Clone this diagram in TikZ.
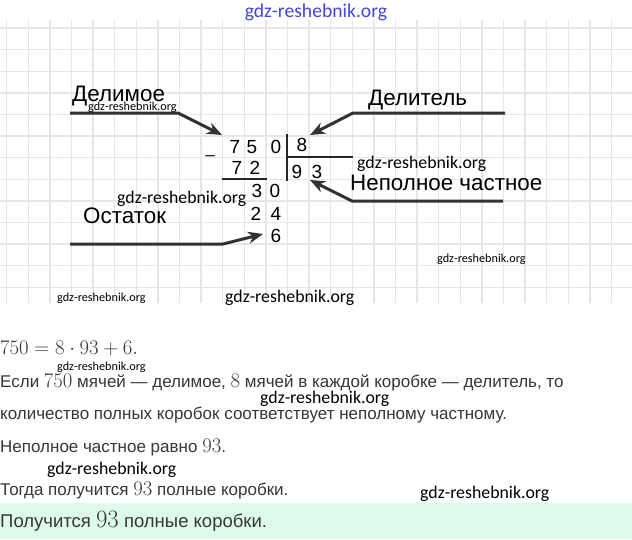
\documentclass[tikz,border=0pt]{standalone}
\usepackage{fontspec}
\newfontfamily\arialfont{Liberation Sans}
\newfontfamily\wmfont{Carlito}
\usetikzlibrary{arrows.meta,calc}
\definecolor{gridgray}{RGB}{230,230,230}
\definecolor{arrowgray}{RGB}{50,50,50}
\definecolor{bodygray}{RGB}{55,55,55}
\definecolor{answergreen}{RGB}{222,250,234}
\definecolor{wmblue}{RGB}{70,70,215}
\tikzset{%
  gridline/.style={draw=gridgray, line width=1.4},
  digit/.style={inner sep=0, font=\arialfont\fontsize{19}{19}\selectfont},% digits of the division
  caption/.style={inner sep=0, anchor=base west, font=\arialfont\fontsize{22.4}{22.4}\selectfont},
  pointer/.style={draw=arrowgray, line width=3, -{Stealth[length=15pt,width=12pt]}},
  rule/.style={draw=black!85, line width=2.7},% division bars
  wmsmall/.style={inner sep=0, anchor=base west, font=\wmfont\fontsize{12.2}{12.2}\selectfont},
  wmbig/.style={inner sep=0, anchor=base west, font=\wmfont\fontsize{17.8}{17.8}\selectfont},
  bodytext/.style={inner sep=0, anchor=base west, text=bodygray, font=\arialfont\fontsize{17}{17}\selectfont}
}
\newcommand*{\bignum}[1]{{\fontsize{22}{22}\selectfont$#1$}}
\begin{document}
\begin{tikzpicture}[x=1pt,y=-1pt]
\useasboundingbox (0,0) rectangle (632,539);
\fill[white] (0,0) rectangle (632,539);

% squared paper
\foreach \k in {0,...,28}
  \draw[gridline] (6.7+21.6*\k,20) -- (6.7+21.6*\k,303);
\foreach \k in {0,...,12}
  \draw[gridline] (0,28+21.6*\k) -- (632,28+21.6*\k);

\node[font=\wmfont\fontsize{19.6}{19.6}\selectfont, text=wmblue, inner sep=0] (wmtop) at (316,12) {gdz-reshebnik.org};

% long division
\node[digit] (d7) at (235,147) {7};
\node[digit] (d5) at (252,147) {5};
\node[digit] (d0) at (276,147) {0};
\node[digit, font=\arialfont\fontsize{17}{17}\selectfont] (minus) at (210,158) {–};
\node[digit] (s7) at (237,168) {7};
\node[digit] (s2) at (255,168) {2};
\node[digit] (r3) at (257,191) {3};
\node[digit] (r0) at (275,191) {0};
\node[digit] (t2) at (256,214) {2};
\node[digit] (t4) at (276,214) {4};
\node[digit] (rest) at (276,236) {6};
\node[digit] (divisor) at (302,145) {8};
\node[digit] (q9) at (297,172) {9};
\node[digit] (q3) at (317,172) {3};

\coordinate (bartop) at (287,134);
\coordinate (barbottom) at (287,181);
\coordinate (barright) at (353,157);
\draw[rule] (bartop) -- (barbottom);
\draw[rule] (bartop |- barright) -- (barright);
\draw[rule] (222,179) -- (267,179);

% labels with pointers
\node[caption] (dividend) at (72,101) {Делимое};
\node[caption] (divlabel) at (368,105) {Делитель};
\node[caption] (quotlabel) at (350,190) {Неполное частное};
\node[caption] (remlabel) at (83,223) {Остаток};

\coordinate (dividendstart) at (70,113);
\coordinate (dividendbend) at (178,113);
\coordinate (dividendtip) at (222,135);
\draw[pointer] (dividendstart) -- (dividendbend) -- (dividendtip);

\coordinate (divisorstart) at (505,113);
\coordinate (divisorbend) at (353,113);
\coordinate (divisortip) at (310,135);
\draw[pointer] (divisorstart) -- (divisorbend) -- (divisortip);

\coordinate (quotstart) at (503,201);
\coordinate (quotbend) at (352,201);
\coordinate (quottip) at (310,180);
\draw[pointer] (quotstart) -- (quotbend) -- (quottip);

\coordinate (remstart) at (70,244);
\coordinate (rembend) at (223,244);
\coordinate (remtip) at (263,234);
\draw[pointer] (remstart) -- (rembend) -- (remtip);

% watermarks over the grid
\node[wmsmall] (wm1) at (88,110) {gdz-reshebnik.org};
\node[wmbig] (wm2) at (357,168) {gdz-reshebnik.org};
\node[wmbig] (wm3) at (117,203) {gdz-reshebnik.org};
\node[wmsmall] (wm4) at (437,262) {gdz-reshebnik.org};
\node[wmsmall] (wm5) at (57,301) {gdz-reshebnik.org};
\node[wmbig] (wm6) at (225,302) {gdz-reshebnik.org};

% solution text
\fill[answergreen] (0,503) rectangle (632,539);
\node[bodytext] (eq) at (0,354) {{\fontsize{20}{20}\selectfont$750=8\cdot 93+6.$}};
\node[bodytext] (line1) at (0,387) {Если \bignum{750} мячей — делимое, \bignum{8} мячей в каждой коробке — делитель, то};
\node[bodytext] (line2) at (0,419) {количество полных коробок соответствует неполному частному.};
\node[bodytext] (line3) at (0,452) {Неполное частное равно \bignum{93}.};
\node[bodytext] (line4) at (0,495) {Тогда получится \bignum{93} полные коробки.};
\node[bodytext, font=\arialfont\fontsize{18.5}{18.5}\selectfont] (answer) at (0,527) {Получится {\fontsize{23}{23}\selectfont$93$} полные коробки.};

\node[wmsmall] (wm7) at (57,370) {gdz-reshebnik.org};
\node[wmbig] (wm8) at (260,403) {gdz-reshebnik.org};
\node[wmbig] (wm9) at (47,474) {gdz-reshebnik.org};
\node[wmbig] (wm10) at (420,498) {gdz-reshebnik.org};
\end{tikzpicture}
\end{document}
